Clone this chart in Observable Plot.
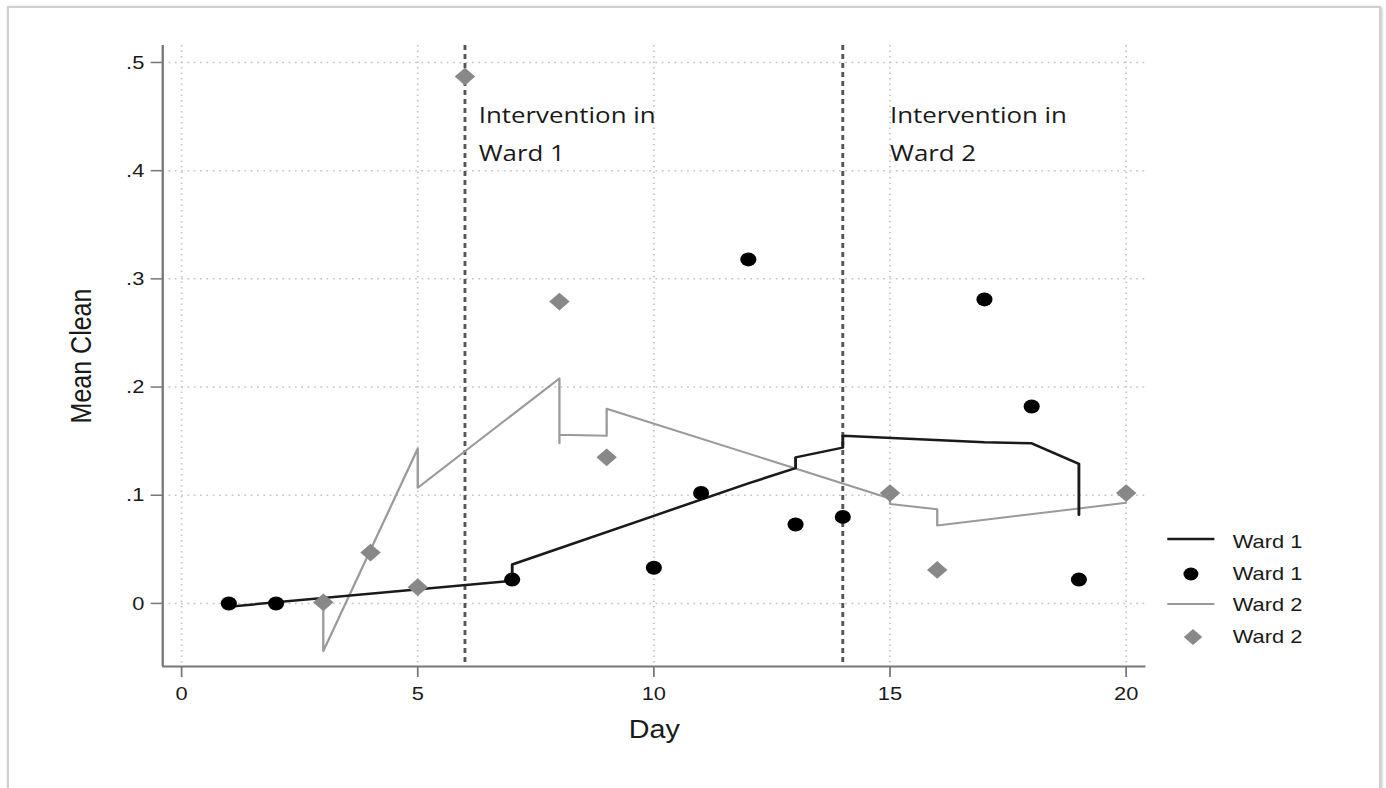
<!DOCTYPE html>
<html><head><meta charset="utf-8">
<script src="https://cdn.jsdelivr.net/npm/d3@7"></script>
<script src="https://cdn.jsdelivr.net/npm/@observablehq/plot@0.6"></script>
<style>
html,body{margin:0;padding:0;background:#fff;width:1386px;height:788px;overflow:hidden}
#frame{position:absolute;left:7px;top:6px;width:1370px;height:820px;border:2px solid #cfcfcf;box-shadow:1px 1px 3px rgba(0,0,0,0.25);}
#stage{position:absolute;left:0;top:0;width:1205px;height:788px;transform:scaleX(1.15);transform-origin:0 0;}
#legend{position:absolute;left:1014px;top:526px;font-family:"Liberation Sans",Arial,sans-serif;font-size:19px;color:#1a1a1a}
.row{height:31.7px;display:flex;align-items:center}
.row svg{width:44px;height:20px;margin-right:14px;flex:none}
</style></head>
<body>
<div id="frame"></div>
<div id="stage"><div id="chart"></div>
<div id="legend">
  <div class="row"><svg><line x1="1" x2="42" y1="7" y2="7" stroke="#1a1a1a" stroke-width="2.5"/></svg><span>Ward 1</span></div>
  <div class="row"><svg><ellipse cx="21.6" cy="10" rx="6.5" ry="6.5" fill="#000"/></svg><span>Ward 1</span></div>
  <div class="row"><svg><line x1="1" x2="42" y1="9" y2="9" stroke="#999" stroke-width="2"/></svg><span>Ward 2</span></div>
  <div class="row"><svg><path d="M23.4,2 L31.4,10 L23.4,18 L15.4,10 Z" fill="#888"/></svg><span>Ward 2</span></div>
</div>
</div>
<script>
// Observed daily means
const ward1Days = [1, 2, 7, 10, 11, 12, 13, 14, 17, 18, 19];
const ward1Mean = [0, 0, 0.022, 0.033, 0.102, 0.318, 0.073, 0.080, 0.281, 0.182, 0.022];
const ward2Days = [3, 4, 5, 6, 8, 9, 15, 16, 20];
const ward2Mean = [0.001, 0.047, 0.015, 0.487, 0.279, 0.135, 0.102, 0.031, 0.102];

// Fitted lines (in data order, repeated days give vertical steps)
const fit1Days = [1, 7, 7, 10, 12, 13, 13, 14, 14, 17, 18, 19, 19];
const fit1Vals = [-0.003, 0.021, 0.036, 0.081, 0.111, 0.125, 0.135, 0.144, 0.155, 0.149, 0.148, 0.129, 0.082];
const fit2Days = [3, 3, 5, 5, 8, 8, 8, 9, 9, 15, 15, 16, 16, 20];
const fit2Vals = [0.003, -0.044, 0.143, 0.107, 0.208, 0.148, 0.156, 0.155, 0.180, 0.097, 0.092, 0.087, 0.072, 0.093];

const interventionDays = [6, 14];
const annotationDays = [6.29, 15.0];
const annotationLabels = ["Intervention in\nWard 1", "Intervention in\nWard 2"];

const xTicks = [0, 5, 10, 15, 20];
const yTicks = [0, 0.1, 0.2, 0.3, 0.4, 0.5];
const xDomain = [-0.4, 20.42];
const yDomain = [-0.0583, 0.5157];

const ward1 = ward1Days.map((d, i) => ({day: d, value: ward1Mean[i]}));
const ward2 = ward2Days.map((d, i) => ({day: d, value: ward2Mean[i]}));
const fit1 = fit1Days.map((d, i) => ({day: d, value: fit1Vals[i]}));
const fit2 = fit2Days.map((d, i) => ({day: d, value: fit2Vals[i]}));
const annotations = annotationDays.map((d, i) => ({day: d, label: annotationLabels[i]}));

const yFmt = d => d === 0 ? "0" : d3.format(".1f")(d).replace(/^0/, "");

const chart = Plot.plot({
  width: 1205, height: 788,
  marginLeft: 141, marginRight: 209, marginTop: 45, marginBottom: 122,
  x: {domain: xDomain},
  y: {domain: yDomain},
  style: {fontFamily: "'Liberation Sans', Arial, sans-serif", fontSize: "19px", color: "#1a1a1a", background: "transparent", overflow: "visible"},
  marks: [
    Plot.ruleY(yTicks, {stroke: "#c4c4c4", strokeWidth: 1.5, strokeDasharray: "1.5,4"}),
    Plot.ruleX(xTicks, {stroke: "#c4c4c4", strokeWidth: 1.5, strokeDasharray: "1.5,4"}),
    Plot.ruleX(interventionDays, {stroke: "#555", strokeWidth: 2.5, strokeDasharray: "5,4"}),
    Plot.line(fit2, {x: "day", y: "value", stroke: "#9a9a9a", strokeWidth: 2}),
    Plot.line(fit1, {x: "day", y: "value", stroke: "#1a1a1a", strokeWidth: 2.5}),
    Plot.dot(ward2, {x: "day", y: "value", symbol: "diamond2", r: 8, fill: "#888", stroke: "none"}),
    Plot.dot(ward1, {x: "day", y: "value", r: 7, fill: "#000", stroke: "none"}),
    Plot.text(annotations, {x: "day", text: "label", frameAnchor: "top", dy: 51, lineAnchor: "top", textAnchor: "start", lineHeight: 1.68, fontSize: 22.5, fontFamily: "'Open Sans', sans-serif", fill: "#1a1a1a"}),
    Plot.axisX({ticks: xTicks, tickSize: 11, tickPadding: 9, stroke: "#777", strokeWidth: 1.5, label: null, fill: "#1a1a1a"}),
    Plot.axisY({ticks: yTicks, tickSize: 10, tickPadding: 6, stroke: "#777", strokeWidth: 1.5, label: null, tickFormat: yFmt, fill: "#1a1a1a"}),
    Plot.ruleY([yDomain[0]], {stroke: "#777", strokeWidth: 2}),
    Plot.ruleX([xDomain[0]], {stroke: "#777", strokeWidth: 2}),
    Plot.text(["Mean Clean"], {frameAnchor: "left", dx: -70, rotate: -90, textAnchor: "middle", fontSize: 25, fill: "#1a1a1a"}),
    Plot.text(["Day"], {frameAnchor: "bottom", dy: 71, textAnchor: "middle", fontSize: 25, fill: "#1a1a1a"})
  ]
});
document.getElementById("chart").appendChild(chart);
</script>
</body></html>
